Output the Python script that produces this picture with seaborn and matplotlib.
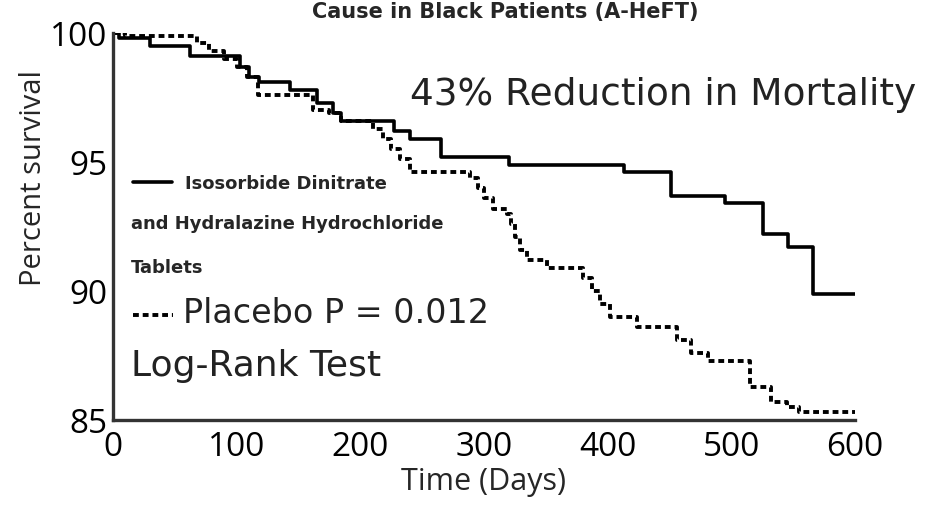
import pandas as pd
import seaborn as sns
import matplotlib.pyplot as plt

# Kaplan-Meier steps (day, percent surviving)
treat_days = [0, 5, 30, 62, 103, 110, 118, 143, 165, 178, 184, 227, 240, 265,
              320, 413, 451, 495, 526, 546, 566, 600]
treat_surv = [100, 99.8, 99.5, 99.1, 98.7, 98.3, 98.1, 97.8, 97.3, 96.9, 96.6,
              96.2, 95.9, 95.2, 94.9, 94.6, 93.7, 93.4, 92.2, 91.7, 89.9, 89.9]

placebo_days = [0, 10, 68, 78, 90, 100, 108, 117, 162, 175, 184, 210, 218, 225,
                232, 240, 289, 295, 300, 307, 319, 322, 325, 329, 335, 351, 380,
                387, 394, 402, 424, 456, 467, 481, 515, 532, 545, 555, 600]
placebo_surv = [100, 99.9, 99.6, 99.3, 99.0, 98.7, 98.3, 97.6, 97.0, 96.9, 96.6,
                96.3, 95.9, 95.5, 95.1, 94.6, 94.4, 94.0, 93.6, 93.2, 93.0, 92.6,
                92.1, 91.6, 91.2, 90.9, 90.5, 90.0, 89.5, 89.0, 88.6, 88.1, 87.6,
                87.3, 86.3, 85.7, 85.5, 85.3, 85.3]

x_ticks = [0, 100, 200, 300, 400, 500, 600]
y_ticks = [85, 90, 95, 100]

sns.set_style('white')
plt.rcParams['font.family'] = ['Open Sans', 'DejaVu Sans']

treat = pd.DataFrame({'Day': treat_days, 'Survival': treat_surv})
placebo = pd.DataFrame({'Day': placebo_days, 'Survival': placebo_surv})

fig = plt.figure(figsize=(9.44, 5.08), dpi=100)
ax = fig.add_axes([0.1197, 0.173, 0.786, 0.762])

dash = (0, (1.5, 1.0))
sns.lineplot(data=treat, x='Day', y='Survival', ax=ax, color='black',
             drawstyle='steps-post', linewidth=2.6, estimator=None, sort=False)
sns.lineplot(data=placebo, x='Day', y='Survival', ax=ax, color='black',
             drawstyle='steps-post', linewidth=2.8, estimator=None, sort=False,
             linestyle=dash)

ax.set_xlim(0, 600)
ax.set_ylim(85, 100)
ax.set_xticks(x_ticks)
ax.set_yticks(y_ticks)
ax.set_xticklabels([str(t) for t in x_ticks], fontsize=24)
ax.set_yticklabels([str(t) for t in y_ticks], fontsize=24)
ax.tick_params(axis='x', direction='out', length=4, width=1.5, pad=4,
               colors='black')
ax.tick_params(axis='y', direction='out', length=5, width=1.5, pad=-1,
               colors='black')

for side in ['top', 'right']:
    ax.spines[side].set_visible(False)
for side in ['left', 'bottom']:
    ax.spines[side].set_color('#333333')
    ax.spines[side].set_linewidth(2.4)

ax.set_xlabel('Time (Days)', fontsize=22, labelpad=2)
ax.set_ylabel('Percent survival', fontsize=21)
ax.yaxis.set_label_coords(-0.088, 0.625)

# text block and legend keys
wide = ['DejaVu Sans']
ax.text(0.400, 0.840, '43% Reduction in Mortality', transform=ax.transAxes,
        fontsize=27, color='#222222', va='center', ha='left', family=wide)
ax.plot([0.027, 0.080], [0.615, 0.615], transform=ax.transAxes,
        color='black', linewidth=2.6)
ax.text(0.097, 0.610, 'Isosorbide Dinitrate', transform=ax.transAxes,
        fontsize=13, fontweight='bold', va='center', ha='left', family=wide)
ax.text(0.024, 0.507, 'and Hydralazine Hydrochloride', transform=ax.transAxes,
        fontsize=13, fontweight='bold', va='center', ha='left', family=wide)
ax.text(0.024, 0.393, 'Tablets', transform=ax.transAxes,
        fontsize=13, fontweight='bold', va='center', ha='left', family=wide)
ax.plot([0.027, 0.081], [0.271, 0.271], transform=ax.transAxes,
        color='black', linewidth=2.8, linestyle=dash)
ax.text(0.094, 0.276, 'Placebo P = 0.012', transform=ax.transAxes,
        fontsize=24, color='#222222', va='center', ha='left', family=wide)
ax.text(0.024, 0.140, 'Log-Rank Test', transform=ax.transAxes,
        fontsize=26, color='#222222', va='center', ha='left', family=wide)

fig.text(0.535, 0.997, 'Cause in Black Patients (A-HeFT)', fontsize=15,
         fontweight='bold', ha='center', va='top', family=wide)

fig.savefig('out.png', dpi=100)
